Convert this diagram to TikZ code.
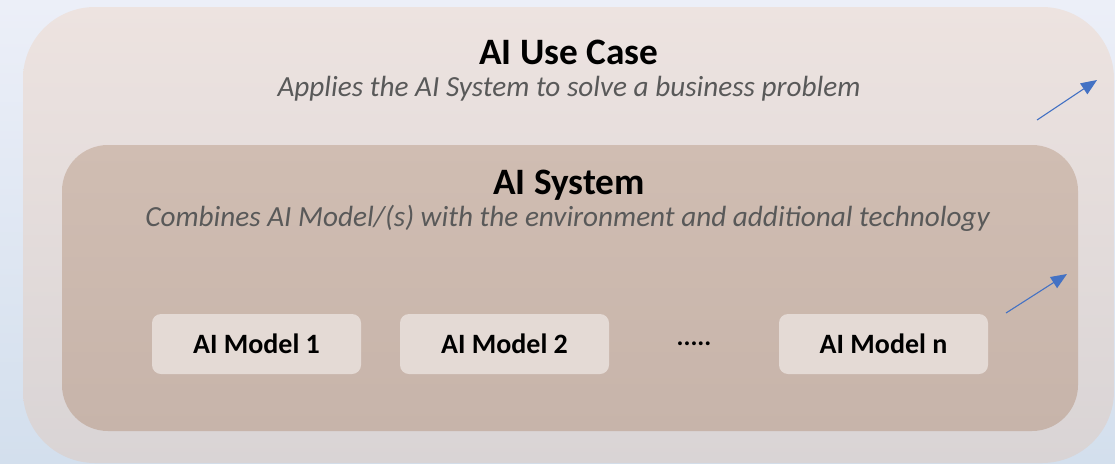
\documentclass[tikz,border=0pt]{standalone}
\usepackage{fontspec}
\setmainfont{Carlito}
\usetikzlibrary{arrows.meta}
\definecolor{bgtop}{HTML}{ECEFF8}
\definecolor{bgbot}{HTML}{D3DFED}
\definecolor{outtop}{HTML}{EDE3E0}
\definecolor{outbot}{HTML}{D9D4D5}
\definecolor{intop}{HTML}{D0BDB2}
\definecolor{inbot}{HTML}{C7B4AA}
\definecolor{modfill}{HTML}{E4DAD5}
\definecolor{subgray}{HTML}{595959}
\definecolor{arrblue}{HTML}{4472C4}
\tikzset{
  titletext/.style={font=\fontsize{37.3}{42}\selectfont\bfseries, text=black, anchor=base, inner sep=0pt},
  subtext/.style={font=\fontsize{29.2}{34}\selectfont\itshape, text=subgray, anchor=base, inner sep=0pt},
  modelbox/.style={rounded corners=9pt, fill=modfill, minimum width=209pt, minimum height=60pt, inner sep=0pt,
    font=\fontsize{28}{32}\selectfont\bfseries, text=black},
  bluearrow/.style={draw=arrblue, line width=1.1pt, -{Triangle[length=16pt,width=13pt]}}
}
\begin{document}
\begin{tikzpicture}[x=1pt,y=-1pt]
\useasboundingbox (0,0) rectangle (1115,463);
\shade[top color=bgtop, bottom color=bgbot] (0,0) rectangle (1115,463);
% outer box
\node[rounded corners=72pt, top color=outtop, bottom color=outbot, minimum width=1091pt, minimum height=456pt, inner sep=0pt] (outer) at (568.5,235) {};
% inner box
\node[rounded corners=46pt, top color=intop, bottom color=inbot, minimum width=1016pt, minimum height=286pt, inner sep=0pt] (inner) at (570,288) {};
% texts
\node[titletext] (t1) at (569,64) {AI Use Case};
\node[subtext] (s1) at (569,96) {Applies the AI System to solve a business problem};
\node[titletext] (t2) at (569,194) {AI System};
\node[subtext] (s2) at (567.5,226) {Combines AI Model/(s) with the environment and additional technology};
% models
\node[modelbox] (m1) at (256.5,344) {AI Model 1};
\node[modelbox] (m2) at (504.5,344) {AI Model 2};
\node[modelbox] (mn) at (883.5,344) {AI Model n};
\node[font=\fontsize{26}{30}\selectfont\bfseries, inner sep=0pt, anchor=base] (dots) at (694,345.5) {.....};
% arrows
\coordinate (a1s) at (1037,120);
\coordinate (a1e) at (1097,80);
\coordinate (a2s) at (1006,313);
\coordinate (a2e) at (1067,274);
\draw[bluearrow] (a1s) -- (a1e);
\draw[bluearrow] (a2s) -- (a2e);
\end{tikzpicture}
\end{document}
